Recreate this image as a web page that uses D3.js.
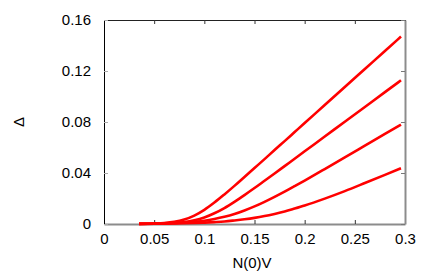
<!DOCTYPE html>
<html>
<head>
<meta charset="utf-8">
<script src="https://cdn.jsdelivr.net/npm/d3@7"></script>
<style>
  body { margin: 0; background: #fff; }
  text { font-family: "Liberation Sans", Arial, sans-serif; }
</style>
</head>
<body>
<div id="chart"></div>
<script>
// N(0)V values shared by all four curves
var coupling = [0.035, 0.05, 0.06, 0.07, 0.08, 0.09, 0.1, 0.11, 0.12, 0.13, 0.14, 0.15,
                0.16, 0.17, 0.18, 0.19, 0.2, 0.22, 0.24, 0.26, 0.28, 0.296];
var gap1 = [0.0001, 0.0004, 0.0008, 0.0017, 0.0035, 0.0066, 0.0111, 0.0168, 0.0232, 0.0299, 0.0369, 0.0439,
            0.0509, 0.058, 0.065, 0.0721, 0.0792, 0.0933, 0.1075, 0.1216, 0.1357, 0.147];
var gap2 = [0.0001, 0.0002, 0.0004, 0.0008, 0.0015, 0.0029, 0.0051, 0.0084, 0.0125, 0.0174, 0.0227, 0.0282,
            0.0339, 0.0396, 0.0454, 0.0512, 0.057, 0.0686, 0.0802, 0.0918, 0.1034, 0.1127];
var gap3 = [0.0002, 0.0003, 0.0005, 0.0008, 0.0012, 0.0018, 0.0026, 0.0039, 0.0056, 0.0078, 0.0106, 0.0138,
            0.0174, 0.0213, 0.0254, 0.0297, 0.0341, 0.0431, 0.0522, 0.0614, 0.0706, 0.0779];
var gap4 = [0.0001, 0.0002, 0.0003, 0.0004, 0.0006, 0.0008, 0.0011, 0.0015, 0.002, 0.0028, 0.0037, 0.0048,
            0.0062, 0.0079, 0.0098, 0.0121, 0.0145, 0.0199, 0.0258, 0.0321, 0.0385, 0.0437];
var xTicks = [0, 0.05, 0.1, 0.15, 0.2, 0.25, 0.3];
var yTicks = [0, 0.04, 0.08, 0.12, 0.16];

var width = 436, height = 273;
var margin = {top: 20, right: 31, bottom: 49, left: 104};

var svg = d3.select("#chart")
  .append("svg")
  .attr("width", width)
  .attr("height", height);

var x = d3.scaleLinear()
  .domain([0, 0.3])
  .range([margin.left, width - margin.right]);
var y = d3.scaleLinear()
  .domain([0, 0.16])
  .range([height - margin.bottom, margin.top]);

var fmt = function(d) { return d === 0 ? "0" : String(+d.toFixed(2)); };

// bottom axis (grey line, ticks pointing in)
var xAxis = svg.append("g")
  .attr("transform", "translate(0," + y(0) + ")")
  .call(d3.axisBottom(x).tickValues(xTicks).tickFormat(fmt)
        .tickSizeInner(-4).tickSizeOuter(0).tickPadding(9));
xAxis.select(".domain").attr("stroke", "#8c8c8c").attr("stroke-width", 2);
xAxis.selectAll(".tick line").attr("stroke", "#333");

// top axis mirror ticks
var xTop = svg.append("g")
  .attr("transform", "translate(0," + y(0.16) + ")")
  .call(d3.axisTop(x).tickValues(xTicks).tickFormat("")
        .tickSizeInner(-4).tickSizeOuter(0));
xTop.select(".domain").attr("stroke", "#222");
xTop.selectAll(".tick line").attr("stroke", "#333");

// left axis
var yAxis = svg.append("g")
  .attr("transform", "translate(" + x(0) + ",0)")
  .call(d3.axisLeft(y).tickValues(yTicks).tickFormat(fmt)
        .tickSizeInner(-4).tickSizeOuter(0).tickPadding(13));
yAxis.select(".domain").attr("stroke", "#000");
yAxis.selectAll(".tick line").attr("stroke", "#aaa");

// right axis mirror ticks
var yRight = svg.append("g")
  .attr("transform", "translate(" + x(0.3) + ",0)")
  .call(d3.axisRight(y).tickValues(yTicks).tickFormat("")
        .tickSizeInner(-4).tickSizeOuter(0));
yRight.select(".domain").attr("stroke", "#8c8c8c").attr("stroke-width", 2);
yRight.selectAll(".tick line").attr("stroke", "#777");

svg.selectAll(".tick text")
  .style("font-size", "15px")
  .attr("fill", "#000");

// curves
var line = d3.line()
  .x(function(d) { return x(d[0]); })
  .y(function(d) { return y(d[1]); })
  .curve(d3.curveMonotoneX);

[gap1, gap2, gap3, gap4].forEach(function(g) {
  svg.append("path")
    .datum(coupling.map(function(c, i) { return [c, g[i]]; }))
    .attr("fill", "none")
    .attr("stroke", "#ff0000")
    .attr("stroke-width", 2.6)
    .attr("d", line);
});

// axis titles
svg.append("text")
  .attr("x", 252)
  .attr("y", 268)
  .attr("text-anchor", "middle")
  .style("font-size", "15px")
  .text("N(0)V");

svg.append("text")
  .attr("transform", "translate(24,122) rotate(-90)")
  .attr("text-anchor", "middle")
  .style("font-size", "15px")
  .text("Δ");
</script>
</body>
</html>
